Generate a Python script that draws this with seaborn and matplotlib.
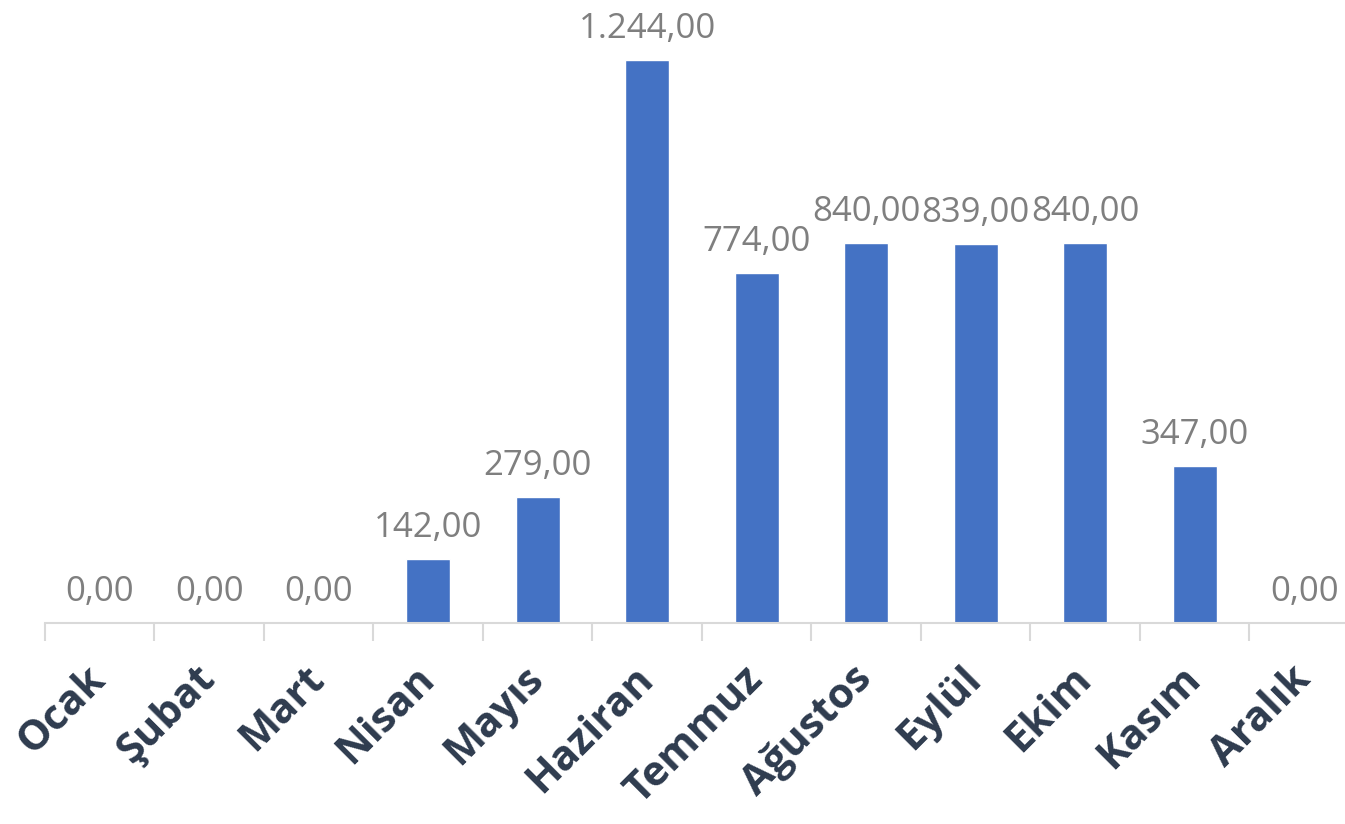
import matplotlib
matplotlib.use("Agg")
import matplotlib.pyplot as plt
import seaborn as sns
import pandas as pd
import numpy as np
from matplotlib.ticker import FixedLocator

months = ["Ocak", "Şubat", "Mart", "Nisan", "Mayıs", "Haziran", "Temmuz",
          "Ağustos", "Eylül", "Ekim", "Kasım", "Aralık"]
values = [0, 0, 0, 142, 279, 1244, 774, 840, 839, 840, 347, 0]
value_labels = ["0,00", "0,00", "0,00", "142,00", "279,00", "1.244,00", "774,00",
                "840,00", "839,00", "840,00", "347,00", "0,00"]

sns.set_theme(style="white")
plt.rcParams['font.family'] = ['Open Sans', 'DejaVu Sans']

df = pd.DataFrame({"month": months, "value": values})

fig = plt.figure(figsize=(13.45, 8.24), dpi=100)
ax = fig.add_axes([45/1345, 201/824, 1314/1345, 588/824])
sns.barplot(data=df, x="month", y="value", color="#4472c4", width=0.4,
            saturation=1, ax=ax)
ax.set_xlim(-0.5, 11.5)
ax.set_ylim(0, 1300)

for i, (v, lab) in enumerate(zip(values, value_labels)):
    ax.annotate(lab, (i, v), xytext=(0, 10), textcoords="offset points",
                ha="center", va="bottom", fontsize=25, color="#7f7f7f",
                fontweight="medium")

for s in ["top", "right", "left"]:
    ax.spines[s].set_visible(False)
ax.spines["bottom"].set_color("#d9d9d9")
ax.spines["bottom"].set_linewidth(1.5)
ax.set_yticks([])
ax.set_xlabel("")
ax.set_ylabel("")

ax.xaxis.set_minor_locator(FixedLocator(np.arange(-0.5, 12, 1)))
ax.tick_params(axis="x", which="minor", length=13, width=1.5, color="#d9d9d9",
               direction="out", bottom=True)
ax.tick_params(axis="x", which="major", length=0, pad=36)
for t in ax.get_xticklabels():
    t.set_rotation(45)
    t.set_ha("right")
    t.set_rotation_mode("anchor")
    t.set_va("center")
    t.set_fontsize(30)
    t.set_fontweight("bold")
    t.set_color("#2e3b4e")

fig.savefig("out.png", dpi=100)
